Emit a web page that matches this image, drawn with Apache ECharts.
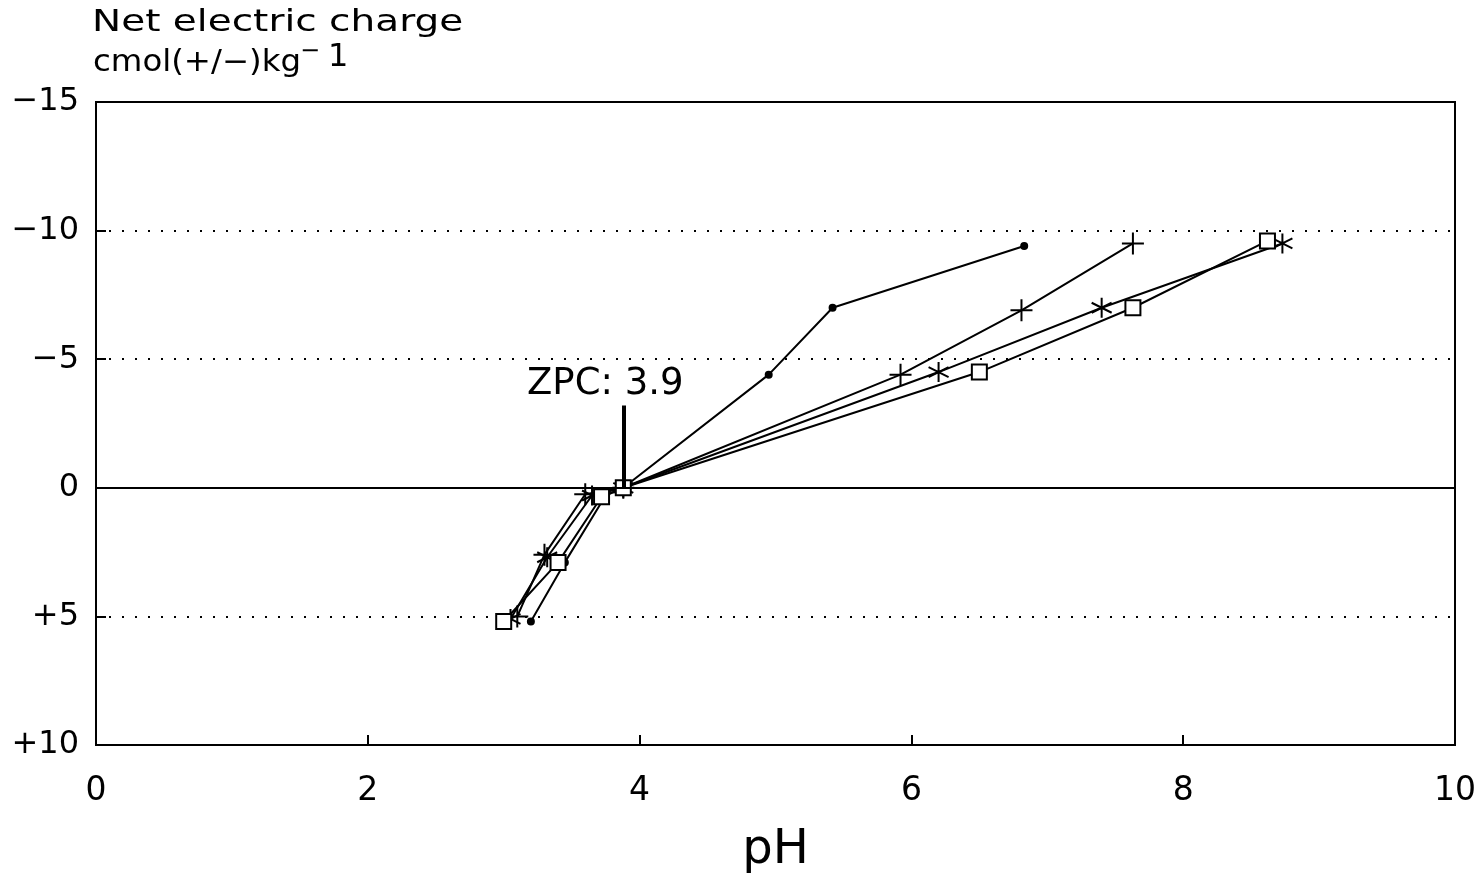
<!DOCTYPE html>
<html>
<head>
<meta charset="utf-8">
<script src="https://cdn.jsdelivr.net/npm/echarts@6/dist/echarts.min.js"></script>
<style>
  html, body { margin: 0; padding: 0; background: #fff; }
  #chart { width: 1484px; height: 877px; }
</style>
</head>
<body>
<div id="chart"></div>
<script>
// pH / net charge (cmol(+/-)kg-1)
var seriesDot = [[3.2, 5.2], [3.45, 2.9], [3.75, 0.3], [3.88, 0], [4.95, -4.4], [5.42, -7.0], [6.83, -9.4]];
var seriesPlus = [[3.1, 5.0], [3.3, 2.6], [3.6, 0.25], [3.88, 0], [5.92, -4.4], [6.81, -6.9], [7.63, -9.5]];
var seriesStar = [[3.05, 5.1], [3.32, 2.7], [3.65, 0.3], [3.88, 0], [6.2, -4.5], [7.4, -7.0], [8.73, -9.5]];
var seriesSquare = [[3.0, 5.2], [3.4, 2.9], [3.72, 0.35], [3.88, 0], [6.5, -4.5], [7.63, -7.0], [8.62, -9.6]];
var zpc = 3.88;
var zpcLabel = 'ZPC: 3.9';

var font = 'DejaVu Sans';
var chart = echarts.init(document.getElementById('chart'));

function mkSeries(data, symbol, size) {
	return {
		type: 'line',
		data: data,
		symbol: symbol,
		symbolSize: size,
		lineStyle: {color: '#000', width: 2},
		itemStyle: {color: '#000', borderColor: '#000', borderWidth: 2},
		z: 3
	};
}

function txt(x, y, s, size, sx) {
	return {
		type: 'text', x: x, y: y, scaleX: sx || 1,
		style: {text: s, fontSize: size, fontFamily: font, fill: '#000', verticalAlign: 'middle'}
	};
}

var plusPath = 'path://M0,-1L0,1M-1,0L1,0';
var starPath = 'path://M0,-1L0,1M-0.87,-0.5L0.87,0.5M-0.87,0.5L0.87,-0.5';

var dot = mkSeries(seriesDot, 'circle', 6);
dot.markLine = {
	silent: true,
	symbol: 'none',
	label: {show: false},
	lineStyle: {color: '#000', type: 'solid', width: 2},
	data: [{yAxis: 0}]
};

var plus = mkSeries(seriesPlus, plusPath, 22);
plus.markLine = {
	silent: true,
	symbol: 'none',
	lineStyle: {color: '#000', type: 'solid', width: 4},
	label: {
		show: true, position: 'end', formatter: zpcLabel,
		color: '#000', fontFamily: font, fontSize: 37, offset: [-18, 2]
	},
	data: [[{coord: [zpc, 0]}, {coord: [zpc, -3.2]}]]
};

option = {
	animation: false,
	backgroundColor: '#fff',
	grid: {left: 96, right: 29, top: 102, bottom: 132, outerBoundsMode: 'none', containLabel: false},
	xAxis: {
		type: 'value', min: 0, max: 10, interval: 2,
		name: 'pH', nameLocation: 'middle', nameGap: 82,
		nameTextStyle: {fontFamily: font, fontSize: 48, color: '#000'},
		axisLine: {show: true, onZero: false, lineStyle: {color: '#000', width: 2}},
		axisTick: {show: true, inside: true, length: 10, lineStyle: {color: '#000', width: 2}},
		axisLabel: {fontFamily: font, fontSize: 33, color: '#000', margin: 30},
		splitLine: {show: false}
	},
	yAxis: {
		type: 'value', min: -15, max: 10, interval: 5, inverse: true,
		axisLine: {show: true, lineStyle: {color: '#000', width: 2}},
		axisTick: {show: true, inside: true, length: 10, lineStyle: {color: '#000', width: 2}},
		axisLabel: {
			fontFamily: font, fontSize: 32, color: '#000', margin: 17,
			formatter: function (v) {
				if (v < 0) return '\u2212' + Math.abs(v);
				if (v > 0) return '+' + v;
				return '0';
			}
		},
		splitLine: {show: true, showMinLine: false, showMaxLine: false, lineStyle: {color: '#000', type: [2, 11], width: 2}}
	},
	graphic: [
		txt(92, 23, 'Net electric charge', 30, 1.3),
		txt(93, 63, 'cmol(+/\u2212)kg', 30, 1.08),
		txt(300, 52, '\u2212', 24),
		txt(328, 58, '1', 32),
		// right and top frame of the plot box
		{type: 'rect', shape: {x: 96, y: 102, width: 1359, height: 643}, style: {fill: 'none', stroke: '#000', lineWidth: 2}, z: 1}
	],
	series: [dot, plus, mkSeries(seriesStar, starPath, 20), mkSeries(seriesSquare, 'emptyRect', 15)]
};
chart.setOption(option);
</script>
</body>
</html>
